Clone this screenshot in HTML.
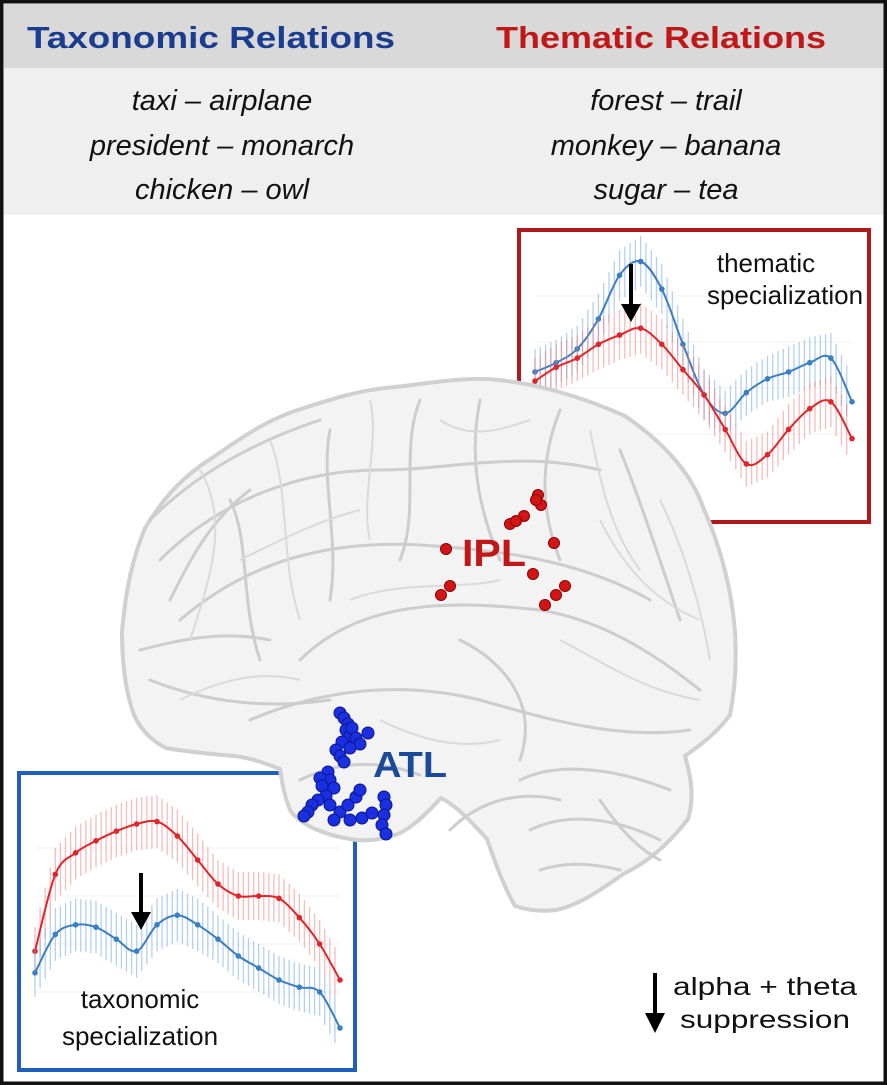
<!DOCTYPE html>
<html><head><meta charset="utf-8"><style>
html,body{margin:0;padding:0;background:#fff}
svg{display:block;font-family:"Liberation Sans",Arial,sans-serif}
</style></head><body>
<svg id="fig" width="887" height="1085" viewBox="0 0 887 1085">
<rect x="0" y="0" width="887" height="1085" fill="#fff"/>
<rect x="4" y="4" width="880" height="64" fill="#d9d9d9"/>
<rect x="4" y="68" width="880" height="147" fill="#efefef"/>
<text x="211" y="48" text-anchor="middle" font-size="31" font-weight="bold" fill="#1b3d8f" textLength="368" lengthAdjust="spacingAndGlyphs">Taxonomic Relations</text>
<text x="661" y="48" text-anchor="middle" font-size="31" font-weight="bold" fill="#c01818" textLength="330" lengthAdjust="spacingAndGlyphs">Thematic Relations</text>
<g font-size="29" font-style="italic" fill="#111" text-anchor="middle">
<text x="222" y="110">taxi – airplane</text>
<text x="222" y="155">president – monarch</text>
<text x="222" y="199">chicken – owl</text>
</g>
<g font-size="29" font-style="italic" fill="#111" text-anchor="middle">
<text x="666" y="110">forest – trail</text>
<text x="666" y="155">monkey – banana</text>
<text x="666" y="199">sugar – tea</text>
</g>

<g id="chartTR">
<rect x="519" y="230" width="350" height="292" fill="#fff" stroke="#b0191c" stroke-width="4"/>
</g>
<g id="chartBL">
<rect x="19" y="773" width="336" height="297" fill="#fff" stroke="#1f5fbf" stroke-width="4"/>
</g>

<g>
<path d="M122,632 C126,585 134,555 145,528 C165,495 185,475 212,458 C245,435 270,418 304,408 C335,398 360,390 395,387 C430,383 460,378 487,379 C535,382 585,398 625,416 C660,440 690,470 703,507 C720,545 732,590 735,632 C737,665 735,690 730,715 C715,735 700,745 685,756 C692,780 694,800 688,819 C668,845 648,862 625,873 C600,890 580,905 556,910 C540,912 527,910 515,906 C503,885 495,862 487,839 C470,820 455,805 441,798 C425,815 410,830 395,835 C380,840 365,842 350,839 C325,835 300,825 290,810 C284,795 282,782 280,769 C262,762 250,758 235,756 C210,754 188,752 166,748 C150,740 140,728 134,715 C125,690 122,660 122,632 Z" fill="#f3f3f3" stroke="#d0d0d0" stroke-width="4"/>
<g fill="none" stroke="#cdcdcd" stroke-width="3" stroke-linecap="round">
<path d="M160,560 C220,500 300,470 380,470 C450,470 520,450 600,470"/>
<path d="M180,620 C250,560 330,540 420,545 C500,550 580,560 650,600"/>
<path d="M300,660 C360,600 450,600 540,610 C600,620 650,650 700,690"/>
<path d="M250,720 C320,690 400,680 480,700 C550,720 620,740 690,730"/>
<path d="M480,400 C470,450 475,500 500,560"/>
<path d="M560,410 C540,460 540,510 560,560"/>
<path d="M230,500 C250,540 240,600 260,660"/>
<path d="M330,430 C320,480 340,540 330,600"/>
<path d="M420,400 C400,450 420,510 400,560"/>
<path d="M620,450 C640,500 660,560 680,620"/>
<path d="M520,780 C560,760 620,770 670,790"/>
<path d="M530,830 C570,810 620,820 660,840"/>
<path d="M540,870 C570,860 600,865 620,870"/>
<path d="M300,780 C340,760 380,760 420,775"/>
<path d="M150,680 C200,700 260,710 330,700"/>
<path d="M460,640 C500,660 540,700 520,760"/>
<path d="M150,520 C200,470 260,440 320,420"/>
<path d="M170,600 C190,560 210,520 250,490"/>
<path d="M140,650 C180,640 220,630 270,640"/>
<path d="M450,830 C480,800 520,790 560,800"/>
<path d="M600,800 C620,830 640,850 660,860"/>
</g>
<g fill="none" stroke="#dadada" stroke-width="2">
<path d="M200,470 C230,520 210,580 190,640"/>
<path d="M270,440 C290,490 280,560 300,620"/>
<path d="M370,400 C380,440 360,500 370,540"/>
<path d="M590,430 C600,480 610,530 640,570"/>
<path d="M660,500 C680,540 700,600 710,660"/>
<path d="M350,600 C400,580 460,590 500,580"/>
<path d="M560,640 C600,660 640,690 700,700"/>
<path d="M180,700 C220,680 260,670 300,680"/>
<path d="M240,560 C280,540 320,520 360,510"/>
<path d="M440,420 C470,440 500,430 530,420"/>
<path d="M600,520 C620,560 650,600 700,620"/>
<path d="M380,720 C420,740 460,750 500,740"/>
</g>
</g>

<g id="dots"></g>

<text x="462" y="566" font-size="38" font-weight="bold" fill="#c01818" textLength="64" lengthAdjust="spacingAndGlyphs">IPL</text>
<text x="373" y="777" font-size="36" font-weight="bold" fill="#1b4a9a" textLength="74" lengthAdjust="spacingAndGlyphs">ATL</text>

<g fill="#111" font-size="26">
<text x="766" y="272" text-anchor="middle">thematic</text>
<text x="785" y="304" text-anchor="middle">specialization</text>
<text x="140" y="1008" text-anchor="middle">taxonomic</text>
<text x="140" y="1045" text-anchor="middle">specialization</text>
</g>

<g>
<line x1="655" y1="973" x2="655" y2="1016" stroke="#000" stroke-width="4"/>
<polygon points="645,1013 665,1013 655,1033" fill="#000"/>
<text x="765" y="995" text-anchor="middle" font-size="25" fill="#111" textLength="184" lengthAdjust="spacingAndGlyphs">alpha + theta</text>
<text x="765" y="1028" text-anchor="middle" font-size="25" fill="#111" textLength="170" lengthAdjust="spacingAndGlyphs">suppression</text>
</g>
<rect x="1.5" y="1.5" width="884" height="1082" fill="none" stroke="#111" stroke-width="4"/>
</svg>
<script>
const trTime = [0,1,2,3,4,5,6,7,8,9,10,11,12,13,14,15];
const trTaxonomic = [47,51,57,70,89,95,83,59,37,29,38,44,47,51,53,34];
const trThematic = [43,49,53,59,63,66,59,48,37,22,7,11,22,31,34,18];
const trError = [10,10,10,11,11,11,11,11,11,10,10,10,11,11,11,11];
const blTime = [0,1,2,3,4,5,6,7,8,9,10,11,12,13,14,15];
const blThematic = [37,69,78,83,87,90,91,85,75,65,60,60,59,51,40,25];
const blTaxonomic = [28,44,48,47,42,37,48,52,48,42,35,30,25,22,20,5];
const blError = [10,11,11,11,11,11,11,11,11,10,10,10,10,10,10,10];
const iplX = [538,541,524,510,516,446,554,533,450,441,565,556,545,536];
const iplY = [495,505,516,524,521,549,543,574,586,595,586,595,605,500];
const atlX = [340,344,348,346,350,342,352,356,360,368,336,340,344,350,328,330,334,320,322,326,318,312,308,304,330,340,348,356,360,334,350,362,372,384,386,384,382,386];
const atlY = [713,718,724,730,736,742,728,738,744,733,750,756,762,748,772,780,788,778,786,796,800,805,812,816,805,812,805,797,790,820,820,818,813,797,805,815,825,834];

const NS='http://www.w3.org/2000/svg';
function mk(tag,attrs,parent){const e=document.createElementNS(NS,tag);for(const k in attrs)e.setAttribute(k,attrs[k]);parent.appendChild(e);return e;}

function drawChart(gid,x0,x1,y0,y1,time,series,err,prefix){
  const g=document.getElementById(gid);
  const xs=t=>x0+(x1-x0)*t/(time.length-1);
  const ys=v=>y0-(y0-y1)*v/100;
  for(let i=1;i<5;i++){
    const gl=mk('line',{x1:x0,x2:x1,y1:y0-(y0-y1)*i/5,y2:y0-(y0-y1)*i/5,stroke:'#f0f0f0','stroke-width':1},g);
    
    
  }
  series.forEach(s=>{
    const pts=time.map((t,i)=>[xs(t),ys(s.vals[i])]);
    const eg=mk('g',{},g);
    
    
    for(let i=0;i<pts.length-1;i++){
      for(let k=0;k<4;k++){
        const f=k/4;
        const px=pts[i][0]+(pts[i+1][0]-pts[i][0])*f;
        const py=pts[i][1]+(pts[i+1][1]-pts[i][1])*f;
        const e=(err[i]+(err[i+1]-err[i])*f)*(y0-y1)/100;
        const l=mk('line',{x1:px,x2:px,y1:py-e,y2:py+e,stroke:s.light,'stroke-width':1.3},eg);
        
        
      }
    }
    let d='M'+pts[0][0]+','+pts[0][1];
    for(let i=0;i<pts.length-1;i++){
      const p0=pts[Math.max(0,i-1)],p1=pts[i],p2=pts[i+1],p3=pts[Math.min(pts.length-1,i+2)];
      d+=' C'+(p1[0]+(p2[0]-p0[0])/6)+','+(p1[1]+(p2[1]-p0[1])/6)+' '+(p2[0]-(p3[0]-p1[0])/6)+','+(p2[1]-(p3[1]-p1[1])/6)+' '+p2[0]+','+p2[1];
    }
    const path=mk('path',{d:d,fill:'none',stroke:s.color,'stroke-width':2},g);
    
    
    pts.forEach(p=>{
      const c=mk('circle',{cx:p[0],cy:p[1],r:2.8,fill:s.color},g);
      
      
    });
  });
}
drawChart('chartTR',535,852,480,250,trTime,[
  {name:'taxonomic',vals:trTaxonomic,color:'#3a7fc1',light:'rgba(120,170,225,0.55)'},
  {name:'thematic',vals:trThematic,color:'#e0262b',light:'rgba(240,120,120,0.5)'}],trError,'thematic-chart');
drawChart('chartBL',35,340,1040,800,blTime,[
  {name:'thematic',vals:blThematic,color:'#e0262b',light:'rgba(240,120,120,0.5)'},
  {name:'taxonomic',vals:blTaxonomic,color:'#3a7fc1',light:'rgba(120,170,225,0.55)'}],blError,'taxonomic-chart');

function arrow(g,x,ya,yb,name){
  const a=mk('line',{x1:x,x2:x,y1:ya,y2:yb-14,stroke:'#000','stroke-width':4},g);
  
  
  const h=mk('polygon',{points:(x-10)+','+(yb-18)+' '+(x+10)+','+(yb-18)+' '+x+','+yb,fill:'#000'},g);
  
  
}
arrow(document.getElementById('chartTR'),631,264,322,'thematic-arrow');
arrow(document.getElementById('chartBL'),141,873,930,'taxonomic-arrow');

const dg=document.getElementById('dots');
iplX.forEach((x,i)=>{
  const c=mk('circle',{cx:x,cy:iplY[i],r:5.5,fill:'#d41515',stroke:'#8a0000','stroke-width':1},dg);
  
  
});
atlX.forEach((x,i)=>{
  const c=mk('circle',{cx:x,cy:atlY[i],r:6,fill:'#1a2fe0',stroke:'#0a1590','stroke-width':1},dg);
  
  
});
</script>
</body></html>
